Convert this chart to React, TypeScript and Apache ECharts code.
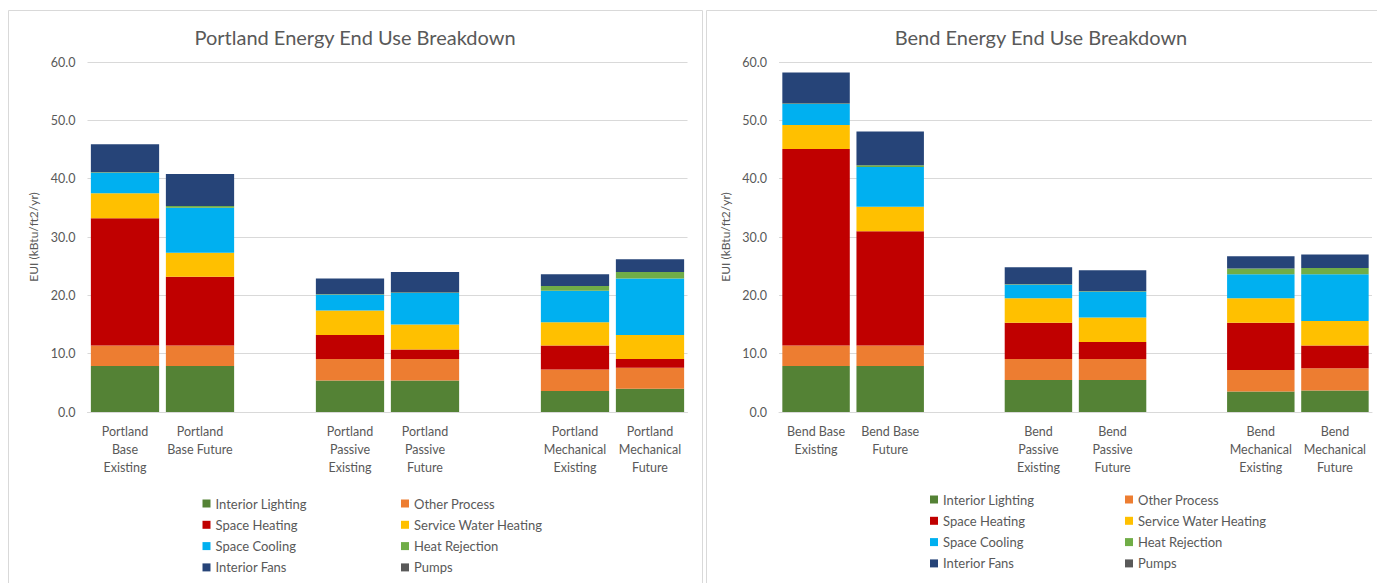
import React, { useEffect, useRef } from "react";
import * as echarts from "echarts";

const seriesNames = [
  "Interior Lighting",
  "Other Process",
  "Space Heating",
  "Service Water Heating",
  "Space Cooling",
  "Heat Rejection",
  "Interior Fans",
  "Pumps",
];
const seriesColors = ["#548235", "#ED7D31", "#C00000", "#FFC000", "#00B0F0", "#70AD47", "#264478", "#595959"];

const portlandCategories = [
  "Portland\nBase\nExisting",
  "Portland\nBase Future",
  "",
  "Portland\nPassive\nExisting",
  "Portland\nPassive\nFuture",
  "",
  "Portland\nMechanical\nExisting",
  "Portland\nMechanical\nFuture",
];
const bendCategories = [
  "Bend Base\nExisting",
  "Bend Base\nFuture",
  "",
  "Bend\nPassive\nExisting",
  "Bend\nPassive\nFuture",
  "",
  "Bend\nMechanical\nExisting",
  "Bend\nMechanical\nFuture",
];

// Portland values (kBtu/ft2/yr)
const portlandLighting = [7.9, 7.9, null, 5.4, 5.4, null, 3.6, 4.0];
const portlandOtherProcess = [3.5, 3.5, null, 3.7, 3.7, null, 3.7, 3.6];
const portlandSpaceHeating = [21.8, 11.8, null, 4.1, 1.6, null, 4.1, 1.5];
const portlandServiceWater = [4.3, 4.1, null, 4.2, 4.3, null, 4.0, 4.1];
const portlandSpaceCooling = [3.5, 7.7, null, 2.7, 5.4, null, 5.4, 9.7];
const portlandHeatRejection = [0.1, 0.3, null, 0.1, 0.1, null, 0.8, 1.1];
const portlandInteriorFans = [4.8, 5.5, null, 2.7, 3.5, null, 2.0, 2.2];
const portlandPumps = [0, 0, null, 0, 0, null, 0, 0];

// Bend values (kBtu/ft2/yr)
const bendLighting = [7.9, 7.9, null, 5.5, 5.5, null, 3.5, 3.7];
const bendOtherProcess = [3.5, 3.5, null, 3.6, 3.6, null, 3.7, 3.8];
const bendSpaceHeating = [33.7, 19.6, null, 6.2, 2.9, null, 8.1, 3.9];
const bendServiceWater = [4.1, 4.2, null, 4.2, 4.2, null, 4.2, 4.2];
const bendSpaceCooling = [3.6, 6.8, null, 2.3, 4.4, null, 4.1, 8.0];
const bendHeatRejection = [0.1, 0.3, null, 0.1, 0.1, null, 1.0, 1.1];
const bendInteriorFans = [5.3, 5.8, null, 2.9, 3.6, null, 2.1, 2.3];
const bendPumps = [0, 0, null, 0, 0, null, 0, 0];

const portlandSeries = [
  portlandLighting,
  portlandOtherProcess,
  portlandSpaceHeating,
  portlandServiceWater,
  portlandSpaceCooling,
  portlandHeatRejection,
  portlandInteriorFans,
  portlandPumps,
];
const bendSeries = [
  bendLighting,
  bendOtherProcess,
  bendSpaceHeating,
  bendServiceWater,
  bendSpaceCooling,
  bendHeatRejection,
  bendInteriorFans,
  bendPumps,
];

const yTicks = { min: 0, max: 60, interval: 10 };

const FONT = "Lato, 'Open Sans', sans-serif";
const GRAY = "#595959";
const LINE = "#D9D9D9";

export default function App() {
  const ref = useRef<HTMLDivElement>(null);

  useEffect(() => {
    if (!ref.current) return;
    const chart = echarts.init(ref.current, undefined, { renderer: "svg" });

    const makeX = (cats: string[], gridIndex: number) => ({
      type: "category",
      gridIndex,
      data: cats,
      axisTick: { show: false },
      axisLine: { lineStyle: { color: LINE, width: 1 } },
      axisLabel: {
        interval: 0,
        color: GRAY,
        fontFamily: FONT,
        fontSize: 12.5,
        lineHeight: 18,
        margin: 10,
      },
    });
    const makeY = (gridIndex: number) => ({
      type: "value",
      gridIndex,
      min: yTicks.min,
      max: yTicks.max,
      interval: yTicks.interval,
      name: "EUI (kBtu/ft2/yr)",
      nameLocation: "middle",
      nameGap: 48,
      nameRotate: 90,
      nameTextStyle: { color: GRAY, fontFamily: FONT, fontSize: 12 },
      axisLine: { show: false },
      axisTick: { show: false },
      splitLine: { lineStyle: { color: LINE, width: 1 } },
      axisLabel: {
        color: GRAY,
        fontFamily: FONT,
        fontSize: 12.5,
        margin: 12,
        formatter: (v: number) => v.toFixed(1),
      },
    });

    const makeSeries = (data: (number | null)[][], axisIndex: number, stack: string) =>
      data.map((d, i) => ({
        type: "bar",
        name: seriesNames[i],
        xAxisIndex: axisIndex,
        yAxisIndex: axisIndex,
        stack,
        data: d,
        barCategoryGap: "9%",
        itemStyle: { color: seriesColors[i] },
      }));

    const legendBase = {
      orient: "vertical",
      icon: "rect",
      itemWidth: 8,
      itemHeight: 8,
      itemGap: 7.3,
      padding: 0,
      selectedMode: false,
      textStyle: { color: GRAY, fontFamily: FONT, fontSize: 13, lineHeight: 14 },
    };
    const col1 = [seriesNames[0], seriesNames[2], seriesNames[4], seriesNames[6]];
    const col2 = [seriesNames[1], seriesNames[3], seriesNames[5], seriesNames[7]];

    chart.setOption({
      animation: false,
      backgroundColor: "#ffffff",
      title: [
        {
          text: "Portland Energy End Use Breakdown",
          left: 355,
          top: 27,
          padding: 0,
          textAlign: "center",
          textStyle: { color: GRAY, fontFamily: FONT, fontSize: 20, fontWeight: "normal" },
        },
        {
          text: "Bend Energy End Use Breakdown",
          left: 1041,
          top: 27,
          padding: 0,
          textAlign: "center",
          textStyle: { color: GRAY, fontFamily: FONT, fontSize: 20, fontWeight: "normal" },
        },
      ],
      grid: [
        { left: 87.5, top: 62, width: 600, height: 350, containLabel: false },
        { left: 779, top: 62, width: 593, height: 350, containLabel: false },
      ],
      xAxis: [makeX(portlandCategories, 0), makeX(bendCategories, 1)],
      yAxis: [makeY(0), makeY(1)],
      legend: [
        { ...legendBase, data: col1, left: 202.5, top: 496.5 },
        { ...legendBase, data: col2, left: 401, top: 496.5 },
        { ...legendBase, data: col1, left: 930, top: 492.5 },
        { ...legendBase, data: col2, left: 1125, top: 492.5 },
      ],
      graphic: [
        {
          type: "rect",
          shape: { x: 8.5, y: 10.5, width: 694, height: 600 },
          style: { fill: "none", stroke: LINE, lineWidth: 1 },
          silent: true,
        },
        {
          type: "rect",
          shape: { x: 706.5, y: 10.5, width: 700, height: 600 },
          style: { fill: "none", stroke: LINE, lineWidth: 1 },
          silent: true,
        },
      ],
      series: [...makeSeries(portlandSeries, 0, "portland"), ...makeSeries(bendSeries, 1, "bend")],
    });

    return () => chart.dispose();
  }, []);

  return (
    <div
      ref={ref}
      style={{ position: "absolute", left: 0, top: 0, width: 1377, height: 583, background: "#fff" }}
    />
  );
}
